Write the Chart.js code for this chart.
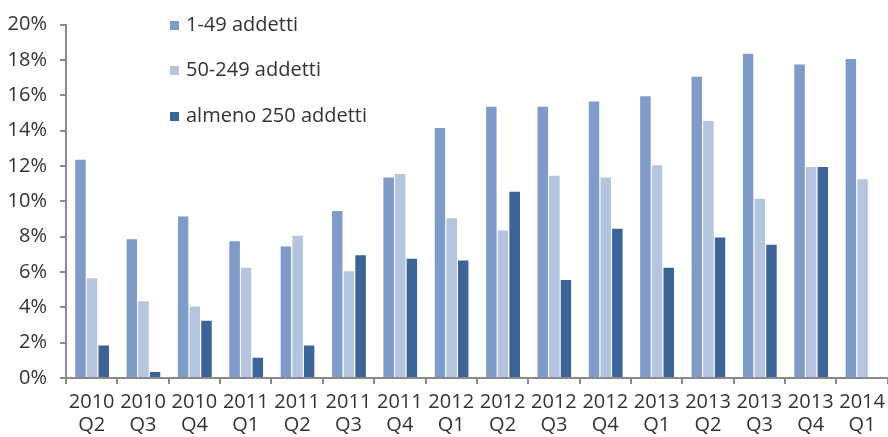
<!doctype html>
<html lang="it">
<head>
<meta charset="utf-8" />
<title>Quota imprese per classe di addetti</title>
<script src="https://cdn.jsdelivr.net/npm/chart.js@4"></script>
<style>
  html, body { margin: 0; padding: 0; background: #fff; overflow: hidden; }
  #wrap { position: relative; width: 892px; height: 437px; }
  .legend { position: absolute; left: 170px; top: 0; font-family: "Open Sans", sans-serif; font-size: 20px; color: #333; }
  .legend div { position: absolute; left: 0; white-space: nowrap; height: 24px; line-height: 24px; }
  .legend span { display: inline-block; width: 9px; height: 9px; margin-right: 7px; vertical-align: 1px; }
</style>
</head>
<body>
<div id="wrap">
  <canvas id="chart" width="892" height="437"></canvas>
  <div class="legend" id="legend"></div>
</div>
<script>
const quarters = [
  ["2010", "Q2"], ["2010", "Q3"], ["2010", "Q4"], ["2011", "Q1"],
  ["2011", "Q2"], ["2011", "Q3"], ["2011", "Q4"], ["2012", "Q1"],
  ["2012", "Q2"], ["2012", "Q3"], ["2012", "Q4"], ["2013", "Q1"],
  ["2013", "Q2"], ["2013", "Q3"], ["2013", "Q4"], ["2014", "Q1"],
];
const small = [12.4, 7.9, 9.2, 7.8, 7.5, 9.5, 11.4, 14.2, 15.4, 15.4, 15.7, 16.0, 17.1, 18.4, 17.8, 18.1];
const medium = [5.7, 4.4, 4.1, 6.3, 8.1, 6.1, 11.6, 9.1, 8.4, 11.5, 11.4, 12.1, 14.6, 10.2, 12.0, 11.3];
const large = [1.9, 0.4, 3.3, 1.2, 1.9, 7.0, 6.8, 6.7, 10.6, 5.6, 8.5, 6.3, 8.0, 7.6, 12.0, null];

const seriesNames = ["1-49 addetti", "50-249 addetti", "almeno 250 addetti"];
const seriesColors = ["#7f9cc8", "#b5c4df", "#3c6496"];
const yTicks = [0, 2, 4, 6, 8, 10, 12, 14, 16, 18, 20];

const FONT = { family: "'Open Sans', sans-serif", size: 20, lineHeight: 1.15 };
const AXIS = "#8a8a8a";

// legend sits inside the plot, stacked vertically
const legendTops = [12, 57, 103];
const legend = document.getElementById("legend");
seriesNames.forEach((name, i) => {
  const row = document.createElement("div");
  row.style.top = legendTops[i] + "px";
  row.innerHTML = `<span style="background:${seriesColors[i]}"></span>${name}`;
  legend.appendChild(row);
});

new Chart(document.getElementById("chart"), {
  type: "bar",
  data: {
    labels: quarters,
    datasets: [small, medium, large].map((d, i) => ({
      label: seriesNames[i],
      data: d,
      backgroundColor: seriesColors[i],
      borderColor: "rgba(255,255,255,0.2)",
      borderWidth: { left: 1, top: 1, right: 0, bottom: 0 },
      categoryPercentage: 0.68,
      barPercentage: 1,
    })),
  },
  options: {
    responsive: false,
    animation: false,
    layout: { padding: { top: 22, right: 1, left: 0, bottom: 0 } },
    plugins: { legend: { display: false }, tooltip: { enabled: false } },
    scales: {
      x: {
        grid: { offset: true, drawOnChartArea: false, tickLength: 6, color: AXIS, lineWidth: 2 },
        border: { color: AXIS, width: 2 },
        ticks: { font: FONT, color: "#333", padding: 7, maxRotation: 0, autoSkip: false },
        afterFit: (s) => { s.height = 59; },
      },
      y: {
        min: 0,
        max: 20,
        afterBuildTicks: (s) => { s.ticks = yTicks.map((v) => ({ value: v })); },
        grid: { drawOnChartArea: false, tickLength: 6, color: AXIS, lineWidth: 2 },
        border: { color: AXIS, width: 2 },
        ticks: { font: FONT, color: "#333", padding: 13, callback: (v) => v + "%" },
        afterFit: (s) => { s.width = 66; },
      },
    },
  },
});
</script>
</body>
</html>
